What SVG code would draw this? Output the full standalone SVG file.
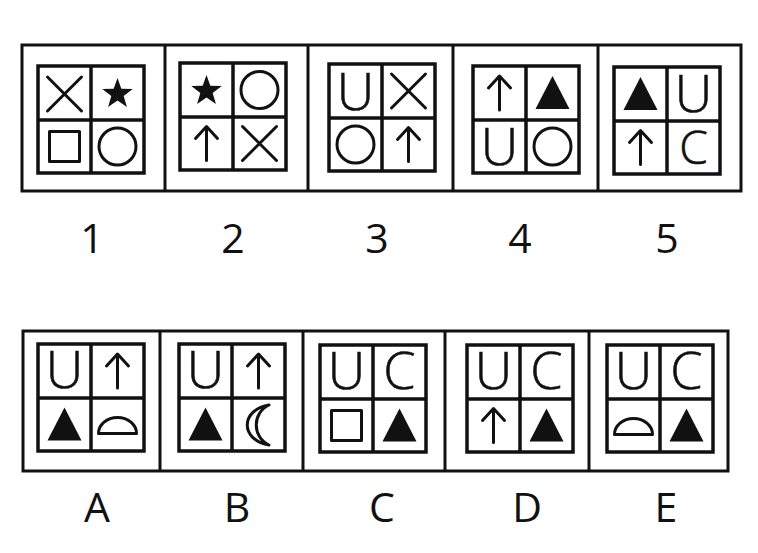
<svg xmlns="http://www.w3.org/2000/svg" xmlns:xlink="http://www.w3.org/1999/xlink" width="758" height="553" viewBox="0 0 758 553">
<style>
.frame{fill:none;stroke:#111;stroke-width:3}
.grid{fill:none;stroke:#111;stroke-width:3.5}
.ln{fill:none;stroke:#111;stroke-width:3;stroke-linecap:round;stroke-linejoin:round}
.fill{fill:#111;stroke:none}
.let{font-family:"Open Sans","Liberation Sans",sans-serif;font-weight:300;font-size:52px;fill:#111;stroke:#111;stroke-width:0.6;text-anchor:middle}
.lab{font-family:"Open Sans","Liberation Sans",sans-serif;font-size:41px;fill:#111;text-anchor:middle}
</style>
<defs>
<g id="gr"><rect class="grid" x="0" y="0" width="106" height="107"/><path class="grid" d="M53,0V107M0,54H106"/></g>
<path id="x" class="ln" d="M-17,-17L17,17M17,-17L-17,17"/>
<polygon id="star" class="fill" points="0,-15 3.82,-4.26 15.22,-3.94 6.18,3.01 9.4,13.94 0,7.5 -9.4,13.94 -6.18,3.01 -15.22,-3.94 -3.82,-4.26"/>
<rect id="sq" class="ln" x="-15" y="-15" width="30" height="30"/>
<circle id="ci" class="ln" cx="0" cy="0" r="18.5"/>
<path id="ar" class="ln" d="M0,17V-16M-11,-5L0,-17L11,-5"/>
<polygon id="tri" class="fill" points="0,-17 17,16 -17,16"/>
<path id="dome" class="ln" d="M-19,9A19,16 0 0 1 19,9Z"/>
<path id="moon" class="ln" d="M10,-20C-19,-15 -19,15 10,20C-7,12 -7,-12 10,-20Z"/>
</defs>
<rect width="758" height="553" fill="#fff"/>
<g id="frames">
<rect class="frame" x="22" y="45" width="719" height="146"/>
<path class="frame" d="M165,45V191M308,45V191M453,45V191M598,45V191"/>
<rect class="frame" x="23" y="331" width="705" height="140"/>
<path class="frame" d="M160,331V471M303,331V471M445,331V471M589,331V471"/>
</g>
<g id="opt1" transform="translate(38,66)">
<use xlink:href="#gr"/><use xlink:href="#x" x="26.5" y="28"/><use xlink:href="#star" x="79.5" y="27"/><use xlink:href="#sq" x="26.5" y="80.5"/><use xlink:href="#ci" x="79.5" y="80.5"/>
</g>
<g id="opt2" transform="translate(180,63)">
<use xlink:href="#gr"/><use xlink:href="#star" x="26.5" y="27"/><use xlink:href="#ci" x="79.5" y="27"/><use xlink:href="#ar" x="26.5" y="80.5"/><use xlink:href="#x" x="79.5" y="80.5"/>
</g>
<g id="opt3" transform="translate(329,64)">
<use xlink:href="#gr"/><text class="let" x="26.5" y="46">U</text><use xlink:href="#x" x="79.5" y="27"/><use xlink:href="#ci" x="26.5" y="80.5"/><use xlink:href="#ar" x="79.5" y="80.5"/>
</g>
<g id="opt4" transform="translate(473,66)">
<use xlink:href="#gr"/><use xlink:href="#ar" x="26.5" y="27"/><use xlink:href="#tri" x="79.5" y="27"/><text class="let" x="26.5" y="99">U</text><use xlink:href="#ci" x="79.5" y="80.5"/>
</g>
<g id="opt5" transform="translate(614,67)">
<use xlink:href="#gr"/><use xlink:href="#tri" x="26.5" y="27"/><text class="let" x="79.5" y="45">U</text><use xlink:href="#ar" x="26.5" y="80.5"/><text class="let" x="79.5" y="97" style="font-size:46px">C</text>
</g>
<g id="labels-top">
<text class="lab" x="92" y="253">1</text>
<text class="lab" x="233" y="253">2</text>
<text class="lab" x="377" y="253">3</text>
<text class="lab" x="520" y="253">4</text>
<text class="lab" x="667" y="253">5</text>
</g>
<g id="optA" transform="translate(38,344)">
<use xlink:href="#gr"/><text class="let" x="26.5" y="44">U</text><use xlink:href="#ar" x="79.5" y="27"/><use xlink:href="#tri" x="26.5" y="80.5"/><use xlink:href="#dome" x="79.5" y="80.5"/>
</g>
<g id="optB" transform="translate(179,344)">
<use xlink:href="#gr"/><text class="let" x="26.5" y="44">U</text><use xlink:href="#ar" x="79.5" y="27"/><use xlink:href="#tri" x="26.5" y="80.5"/><use xlink:href="#moon" x="80" y="81"/>
</g>
<g id="optC" transform="translate(320,345)">
<use xlink:href="#gr"/><text class="let" x="26.5" y="44">U</text><text class="let" x="79.5" y="44">C</text><use xlink:href="#sq" x="26.5" y="80.5"/><use xlink:href="#tri" x="79.5" y="80.5"/>
</g>
<g id="optD" transform="translate(467,345)">
<use xlink:href="#gr"/><text class="let" x="26.5" y="44">U</text><text class="let" x="79.5" y="44">C</text><use xlink:href="#ar" x="26.5" y="80.5"/><use xlink:href="#tri" x="79.5" y="80.5"/>
</g>
<g id="optE" transform="translate(607,345)">
<use xlink:href="#gr"/><text class="let" x="26.5" y="44">U</text><text class="let" x="79.5" y="44">C</text><use xlink:href="#dome" x="26.5" y="80.5"/><use xlink:href="#tri" x="79.5" y="80.5"/>
</g>
<g id="labels-bottom">
<text class="lab" x="97" y="522">A</text>
<text class="lab" x="237" y="522">B</text>
<text class="lab" x="382" y="522">C</text>
<text class="lab" x="527" y="522">D</text>
<text class="lab" x="666" y="522">E</text>
</g>
</svg>
